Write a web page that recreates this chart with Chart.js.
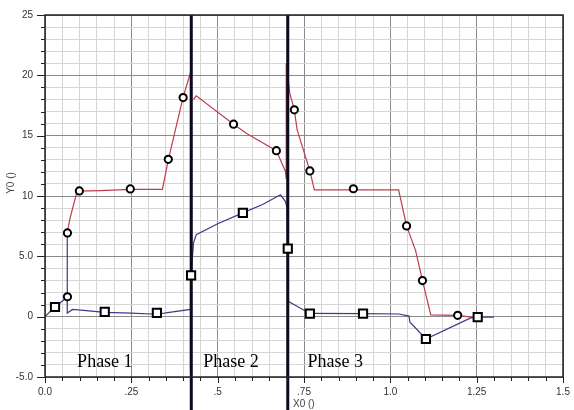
<!DOCTYPE html>
<html>
<head>
<meta charset="utf-8">
<script src="https://cdn.jsdelivr.net/npm/chart.js@4"></script>
<style>
  body { margin: 0; background: #fff; }
  canvas { display: block; }
</style>
</head>
<body>
<canvas id="chart" width="574" height="410"></canvas>
<script>
// linhas continuas (null = caneta levantada)
const redLineX = [0.064, 0.072, 0.093, 0.16, 0.25, 0.34, 0.357, 0.400, 0.421, 0.421, 0.425, 0.430, 0.438, 0.546, 0.585, 0.670, 0.696, 0.6985, 0.6985, 0.709, 0.722, 0.730, 0.767, 0.780, 0.90, 1.024, 1.047, 1.073, 1.093, 1.117, 1.195, 1.252]
const redLineY = [6.9, 8.1, 10.4, 10.45, 10.55, 10.55, 13.0, 18.2, 20.2, -4.4, null, 18.0, 18.3, 15.95, 15.15, 13.76, 12.05, 11.4, 21.0, 18.5, 17.14, 15.5, 12.08, 10.5, 10.5, 10.5, 7.52, 5.5, 3.0, 0.15, 0.11, -0.1]

const blueLineX = [0, 0.029, 0.064, 0.064, 0.065, 0.08, 0.12, 0.173, 0.25, 0.324, 0.36, 0.421, 0.423, 0.43, 0.438, 0.50, 0.573, 0.63, 0.682, 0.696, 0.701, 0.703, 0.705, 0.709, 0.767, 0.921, 1.025, 1.054, 1.057, 1.06, 1.103, 1.233, 1.253, 1.30]
const blueLineY = [0, 0.8, 1.6, 6.9, 0.3, 0.6, 0.5, 0.35, 0.3, 0.2, 0.35, 0.6, 3.4, 6.1, 6.8, 7.7, 8.6, 9.3, 10.1, 9.56, 9.0, 5.6, 1.3, 1.19, 0.27, 0.25, 0.22, 0.05, -0.5, -0.55, -1.85, -0.1, -0.03, -0.03]

// marcadores
const redMarkX = [0.065, 0.065, 0.0995, 0.247, 0.357, 0.400, 0.546, 0.670, 0.722, 0.767, 0.893, 1.047, 1.093, 1.195]
const redMarkY = [1.65, 6.94, 10.42, 10.59, 13.04, 18.16, 15.95, 13.76, 17.14, 12.08, 10.6, 7.52, 2.99, 0.11]

const blueMarkX = [0.029, 0.173, 0.324, 0.423, 0.573, 0.703, 0.767, 0.921, 1.103, 1.253]
const blueMarkY = [0.80, 0.39, 0.31, 3.42, 8.6, 5.64, 0.25, 0.25, -1.85, -0.03]

// limites das fases
const phaseBounds = [0.4236, 0.703]
const phaseNames = ['Phase 1', 'Phase 2', 'Phase 3']
const phaseTextX = [0.093, 0.458, 0.760]

// rotulos dos eixos
const xTickValues = [0, 0.25, 0.5, 0.75, 1.0, 1.25, 1.5]
const xTickLabels = ['0.0', '.25', '.5', '.75', '1.0', '1.25', '1.5']
const yTickValues = [-5, 0, 5, 10, 15, 20, 25]
const yTickLabels = ['-5.0', '0', '5.0', '10', '15', '20', '25']

function toPoints(xs, ys){
    return xs.map((x, i) => ({x: x, y: ys[i]}))
}

function majorIndex(values, v){
    return values.findIndex(t => Math.abs(t - v) < 1e-6)
}

const markerStyle = {
    showLine: false,
    pointBackgroundColor: '#fff',
    pointBorderColor: '#000',
    pointBorderWidth: 2
}

// desenha marcas dos eixos, linhas das fases e textos
const extras = {
    id: 'extras',
    afterDatasetDraw(chart, args){
        if(args.index !== 2) return
        const ctx = chart.ctx
        const area = chart.chartArea
        const xs = chart.scales.x
        ctx.save()
        ctx.strokeStyle = '#0a0a1e'
        ctx.lineWidth = 3
        for(let b of phaseBounds){
            const px = xs.getPixelForValue(b)
            ctx.beginPath()
            ctx.moveTo(px, area.top)
            ctx.lineTo(px, chart.height)
            ctx.stroke()
        }
        ctx.restore()
    },
    afterDraw(chart){
        const ctx = chart.ctx
        const area = chart.chartArea
        const xs = chart.scales.x
        const ys = chart.scales.y
        ctx.save()
        ctx.strokeStyle = '#222'
        ctx.lineWidth = 1.5
        ctx.strokeRect(area.left, area.top, area.right - area.left, area.bottom - area.top)

        ctx.lineWidth = 1
        for(let v = -5; v <= 25; v++){
            const py = Math.round(ys.getPixelForValue(v)) + 0.5
            const len = v % 5 === 0 ? 8 : 4
            ctx.beginPath()
            ctx.moveTo(area.left - len, py)
            ctx.lineTo(area.left, py)
            ctx.stroke()
        }
        for(let i = 0; i <= 30; i++){
            const px = Math.round(xs.getPixelForValue(i * 0.05)) + 0.5
            const len = i % 5 === 0 ? 6 : 4
            ctx.beginPath()
            ctx.moveTo(px, area.bottom)
            ctx.lineTo(px, area.bottom + len)
            ctx.stroke()
        }

        ctx.fillStyle = '#000'
        ctx.font = '18px "Liberation Serif", "Times New Roman", serif'
        ctx.textBaseline = 'alphabetic'
        ctx.textAlign = 'left'
        phaseNames.forEach((name, i) => {
            ctx.fillText(name, xs.getPixelForValue(phaseTextX[i]), ys.getPixelForValue(-4.15))
        })

        ctx.fillStyle = '#444'
        ctx.font = '10px "Liberation Sans", Arial, sans-serif'
        ctx.textAlign = 'left'
        ctx.textBaseline = 'middle'
        ctx.fillText('X0 ()', 293, 404)
        ctx.translate(11, 183)
        ctx.rotate(-Math.PI / 2)
        ctx.textAlign = 'center'
        ctx.fillText('Y0 ()', 0, 0)
        ctx.restore()
    }
}

const grafico = new Chart(document.querySelector('canvas#chart'), {
    type: 'scatter',
    data: {
        datasets: [
            Object.assign({
                data: toPoints(redMarkX, redMarkY),
                pointStyle: 'circle',
                pointRadius: 3.6
            }, markerStyle),
            Object.assign({
                data: toPoints(blueMarkX, blueMarkY),
                pointStyle: 'rect',
                pointRadius: 5.8
            }, markerStyle),
            {
                data: toPoints(blueLineX, blueLineY),
                showLine: true,
                spanGaps: false,
                borderColor: '#3b3b8c',
                borderWidth: 1.2,
                pointRadius: 0,
                tension: 0
            },
            {
                data: toPoints(redLineX, redLineY),
                showLine: true,
                spanGaps: false,
                borderColor: '#c03c4c',
                borderWidth: 1.2,
                pointRadius: 0,
                tension: 0
            }
        ]
    },
    options: {
        responsive: false,
        animation: false,
        events: [],
        layout: {
            padding: {top: 15, right: 11, left: 0, bottom: 0}
        },
        plugins: {
            legend: {display: false},
            tooltip: {enabled: false}
        },
        scales: {
            x: {
                type: 'linear',
                min: 0,
                max: 1.5,
                afterFit(scale){ scale.height = 33 },
                border: {display: false},
                grid: {
                    color: ctx => majorIndex(xTickValues, ctx.tick.value) >= 0 ? '#8a8a8a' : '#d6d6d6',
                    tickLength: 6,
                    tickColor: 'rgba(0,0,0,0)'
                },
                ticks: {
                    stepSize: 0.05,
                    autoSkip: false,
                    maxRotation: 0,
                    padding: 3,
                    color: '#333',
                    font: {family: '"Liberation Sans", Arial, sans-serif', size: 10},
                    callback: function(value){
                        const i = majorIndex(xTickValues, value)
                        return i >= 0 ? xTickLabels[i] : ''
                    }
                }
            },
            y: {
                type: 'linear',
                min: -5,
                max: 25,
                afterFit(scale){ scale.width = 45 },
                border: {display: false},
                grid: {
                    color: ctx => majorIndex(yTickValues, ctx.tick.value) >= 0 ? '#8a8a8a' : '#d6d6d6',
                    tickLength: 9,
                    tickColor: 'rgba(0,0,0,0)'
                },
                ticks: {
                    stepSize: 1,
                    autoSkip: false,
                    padding: 3,
                    color: '#333',
                    font: {family: '"Liberation Sans", Arial, sans-serif', size: 10},
                    callback: function(value){
                        const i = majorIndex(yTickValues, value)
                        return i >= 0 ? yTickLabels[i] : ''
                    }
                }
            }
        }
    },
    plugins: [extras]
})
</script>
</body>
</html>
